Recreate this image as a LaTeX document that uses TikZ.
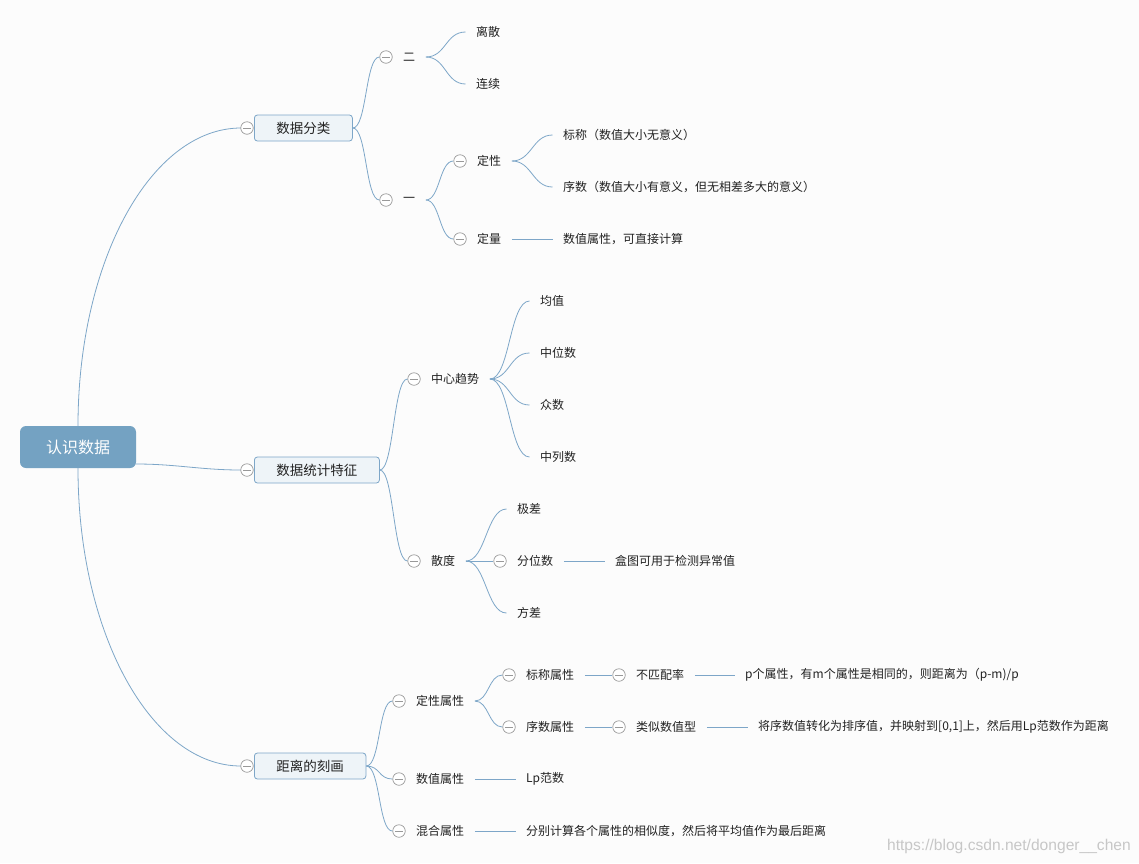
\documentclass[tikz,border=0pt]{standalone}
\usepackage{fontspec}
\setmainfont{Noto Sans CJK SC}
\newfontfamily\wmfont{Liberation Sans}
\usetikzlibrary{calc}
\definecolor{linec}{HTML}{7DA6C8}
\definecolor{boxf}{HTML}{EEF4F8}
\definecolor{rootf}{HTML}{74A2C2}
\definecolor{foldc}{HTML}{999999}
\definecolor{txt}{HTML}{222222}
\definecolor{bg}{HTML}{FCFCFC}
\begin{document}
\begin{tikzpicture}[x=1pt,y=-1pt,
  conn/.style={draw=linec,line width=0.8pt},
  rootbox/.style={fill=rootf,rounded corners=6pt,minimum width=116pt,minimum height=42pt,inner sep=0pt,text=white,font=\fontsize{16}{18}\selectfont},
  topic/.style={draw=linec,fill=boxf,rounded corners=3pt,inner xsep=22pt,inner ysep=0pt,minimum height=26pt,anchor=west,font=\fontsize{13.5}{15}\selectfont,text=txt,line width=0.8pt},
  lbl/.style={anchor=west,inner xsep=10.5pt,inner ysep=0pt,font=\fontsize{12}{14}\selectfont,text=txt},
  fold/.style={circle,draw=foldc,fill=white,minimum size=12.5pt,inner sep=0pt,line width=0.7pt,
    path picture={\draw[foldc,line width=0.7pt] ([xshift=-4pt]path picture bounding box.center) -- ([xshift=4pt]path picture bounding box.center);}},
]
\fill[bg] (0,0) rectangle (1139,863);
\useasboundingbox (0,0) rectangle (1139,863);

% root and main topics
\node[rootbox] (root) at (78,447) {认识数据};
\node[topic] (t1) at (254,128) {数据分类};
\node[topic] (t2) at (254,470) {数据统计特征};
\node[topic] (t3) at (254,766) {距离的刻画};
\draw[conn] (root.north) .. controls +(0,-165) and +(-90,0) .. (241,128) coordinate (e1);
\draw[conn] ($(root.east)+(0,17)$) .. controls +(40,0) and +(-40,0) .. (241,470) coordinate (e2);
\draw[conn] (root.south) .. controls +(0,165) and +(-90,0) .. (241,766) coordinate (e3);
\node[fold] (f1) at (247,128) {};
\node[fold] (f2) at (247,470) {};
\node[fold] (f3) at (247,766) {};

% ---------- 数据分类 ----------
\node[fold] (f11) at (386,57) {};
\node[lbl] (n11) at (392.5,57) {二};
\node[fold] (f12) at (386,200) {};
\node[lbl] (n12) at (392.5,200) {一};
\draw[conn] (t1.east) .. controls +(14,0) and +(-14,0) .. (f11.west);
\draw[conn] (t1.east) .. controls +(14,0) and +(-14,0) .. (f12.west);

\node[lbl] (n111) at (465.5,32) {离散};
\node[lbl] (n112) at (465.5,84) {连续};
\draw[conn] (n11.east) .. controls +(20,0) and +(-20,0) .. (n111.west);
\draw[conn] (n11.east) .. controls +(20,0) and +(-20,0) .. (n112.west);

\node[fold] (f121) at (460,161) {};
\node[lbl] (n121) at (466.5,161) {定性};
\node[fold] (f122) at (460,239) {};
\node[lbl] (n122) at (466.5,239) {定量};
\draw[conn] (n12.east) .. controls +(14,0) and +(-14,0) .. (f121.west);
\draw[conn] (n12.east) .. controls +(14,0) and +(-14,0) .. (f122.west);

\node[lbl] (n1211) at (552.5,135) {标称（数值大小无意义）};
\node[lbl] (n1212) at (552.5,187) {序数（数值大小有意义，但无相差多大的意义）};
\draw[conn] (n121.east) .. controls +(20,0) and +(-20,0) .. (n1211.west);
\draw[conn] (n121.east) .. controls +(20,0) and +(-20,0) .. (n1212.west);
\node[lbl] (n1221) at (552.5,239) {数值属性，可直接计算};
\draw[conn] (n122.east) -- (n1221.west);

% ---------- 数据统计特征 ----------
\node[fold] (f21) at (414,379) {};
\node[lbl] (n21) at (420.5,379) {中心趋势};
\node[fold] (f22) at (414,561) {};
\node[lbl] (n22) at (420.5,561) {散度};
\draw[conn] (t2.east) .. controls +(14,0) and +(-14,0) .. (f21.west);
\draw[conn] (t2.east) .. controls +(14,0) and +(-14,0) .. (f22.west);

\node[lbl] (n211) at (529.5,301) {均值};
\node[lbl] (n212) at (529.5,353) {中位数};
\node[lbl] (n213) at (529.5,405) {众数};
\node[lbl] (n214) at (529.5,457) {中列数};
\foreach \c in {n211,n212,n213,n214}
  \draw[conn] (n21.east) .. controls +(20,0) and +(-20,0) .. (\c.west);

\node[lbl] (n221) at (506.5,509) {极差};
\node[fold] (f222) at (500,561) {};
\node[lbl] (n222) at (506.5,561) {分位数};
\node[lbl] (n223) at (506.5,613) {方差};
\draw[conn] (n22.east) .. controls +(20,0) and +(-20,0) .. (n221.west);
\draw[conn] (n22.east) -- (f222.west);
\draw[conn] (n22.east) .. controls +(20,0) and +(-20,0) .. (n223.west);
\node[lbl] (n2221) at (604.5,561) {盒图可用于检测异常值};
\draw[conn] (n222.east) -- (n2221.west);

% ---------- 距离的刻画 ----------
\node[fold] (f31) at (399,701) {};
\node[lbl] (n31) at (405.5,701) {定性属性};
\node[fold] (f32) at (399,779) {};
\node[lbl] (n32) at (405.5,779) {数值属性};
\node[fold] (f33) at (399,831) {};
\node[lbl] (n33) at (405.5,831) {混合属性};
\draw[conn] (t3.east) .. controls +(14,0) and +(-14,0) .. (f31.west);
\draw[conn] (t3.east) .. controls +(14,0) and +(-14,0) .. (f32.west);
\draw[conn] (t3.east) .. controls +(14,0) and +(-14,0) .. (f33.west);

\node[fold] (f311) at (509,675) {};
\node[lbl] (n311) at (515.5,675) {标称属性};
\node[fold] (f312) at (509,727) {};
\node[lbl] (n312) at (515.5,727) {序数属性};
\draw[conn] (n31.east) .. controls +(14,0) and +(-14,0) .. (f311.west);
\draw[conn] (n31.east) .. controls +(14,0) and +(-14,0) .. (f312.west);

\node[fold] (f3111) at (619,675) {};
\node[lbl] (n3111) at (625.5,675) {不匹配率};
\draw[conn] (n311.east) -- (f3111.west);
\node[lbl] (n31111) at (734.5,675) {p个属性，有m个属性是相同的，则距离为（p-m)/p};
\draw[conn] (n3111.east) -- (n31111.west);

\node[fold] (f3121) at (619,727) {};
\node[lbl] (n3121) at (625.5,727) {类似数值型};
\draw[conn] (n312.east) -- (f3121.west);
\node[lbl] (n31211) at (747.5,727) {将序数值转化为排序值，并映射到[0,1]上，然后用Lp范数作为距离};
\draw[conn] (n3121.east) -- (n31211.west);

\node[lbl] (n321) at (515.5,779) {Lp范数};
\draw[conn] (n32.east) -- (n321.west);
\node[lbl] (n331) at (515.5,831) {分别计算各个属性的相似度，然后将平均值作为最后距离};
\draw[conn] (n33.east) -- (n331.west);

% watermark
\node[anchor=east,inner sep=0pt,text=black!22,font=\wmfont\fontsize{15.6}{17}\selectfont] (wm) at (1131,846) {https://blog.csdn.net/donger\_\_chen};
\end{tikzpicture}
\end{document}
